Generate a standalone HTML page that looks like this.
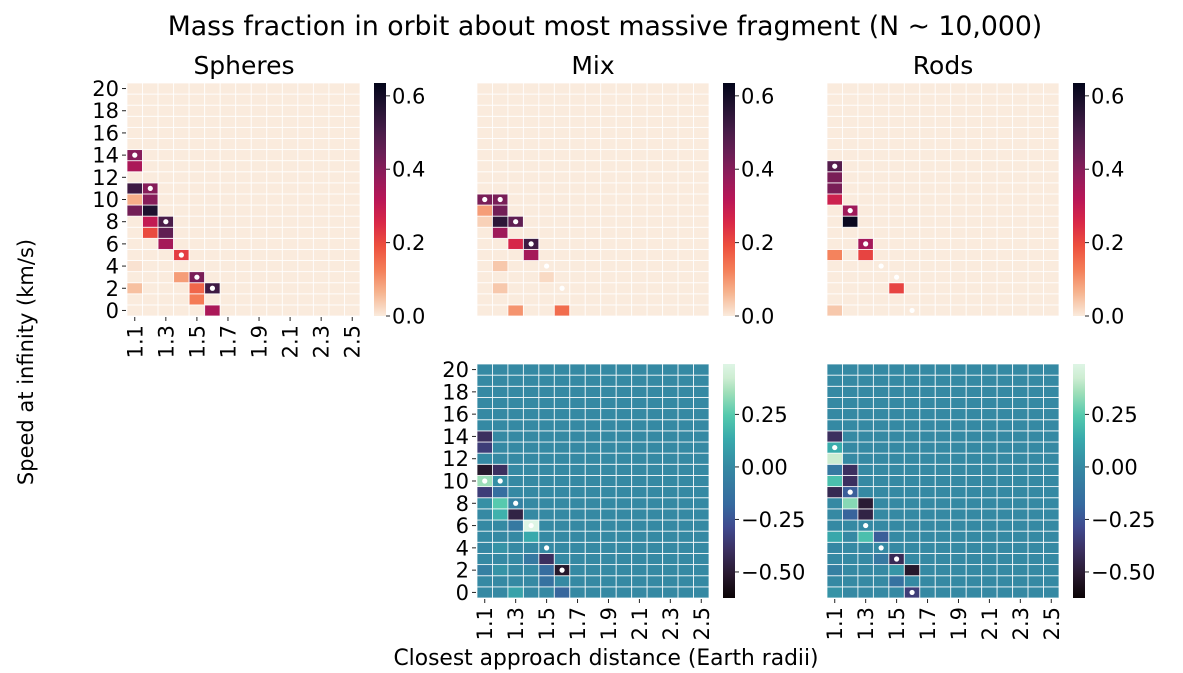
<!DOCTYPE html>
<html><head><meta charset="utf-8"><style>
html,body{margin:0;padding:0;background:#fff}
svg{display:block;font-family:"DejaVu Sans","Liberation Sans",sans-serif}
</style></head><body>
<svg id="fig" width="1183" height="673" viewBox="0 0 1183 673" xmlns="http://www.w3.org/2000/svg">
<defs>
<linearGradient id="rocketG" x1="0" y1="1" x2="0" y2="0">
<stop offset="0" stop-color="#faebdd"/><stop offset="0.1" stop-color="#f6b48f"/><stop offset="0.2" stop-color="#f47d57"/><stop offset="0.3" stop-color="#ed503e"/><stop offset="0.4" stop-color="#d92847"/><stop offset="0.5" stop-color="#b91657"/><stop offset="0.6" stop-color="#921c5b"/><stop offset="0.7" stop-color="#691f55"/><stop offset="0.8" stop-color="#451c47"/><stop offset="0.9" stop-color="#221331"/><stop offset="1" stop-color="#03051a"/>
</linearGradient>
<linearGradient id="makoG" x1="0" y1="1" x2="0" y2="0">
<stop offset="0" stop-color="#0b0405"/><stop offset="0.1" stop-color="#28192f"/><stop offset="0.2" stop-color="#3b2f5e"/><stop offset="0.3" stop-color="#40498e"/><stop offset="0.4" stop-color="#366a9f"/><stop offset="0.56" stop-color="#3589a3"/><stop offset="0.68" stop-color="#38aaac"/><stop offset="0.78" stop-color="#54c9ad"/><stop offset="0.88" stop-color="#a0dfb9"/><stop offset="0.94" stop-color="#cdedd2"/><stop offset="1" stop-color="#def5e5"/>
</linearGradient>
</defs>
<text x="605" y="35" font-size="26.7" text-anchor="middle">Mass fraction in orbit about most massive fragment (N ~ 10,000)</text>
<text x="244" y="74" font-size="25" text-anchor="middle">Spheres</text>
<text x="593" y="74" font-size="25" text-anchor="middle">Mix</text>
<text x="943" y="74" font-size="25" text-anchor="middle">Rods</text>
<text transform="translate(33,362) rotate(-90)" font-size="21" text-anchor="middle">Speed at infinity (km/s)</text>
<text x="606" y="665" font-size="21.8" text-anchor="middle">Closest approach distance (Earth radii)</text>
<g id="plots"></g>
</svg>
<script>
// columns: distance 1.1 .. 2.5 ; rows: speed 0..20
const xCats = ["1.1","1.2","1.3","1.4","1.5","1.6","1.7","1.8","1.9","2.0","2.1","2.2","2.3","2.4","2.5"];
const yCats = [0,1,2,3,4,5,6,7,8,9,10,11,12,13,14,15,16,17,18,19,20];
// nonzero cells: [speed, colIndex, value]
const spheresCells = [[14,0,0.4],[13,0,0.34],[11,0,0.52],[11,1,0.4],[10,0,0.07],[10,1,0.4],[9,0,0.43],[9,1,0.58],[8,1,0.3],[8,2,0.5],[7,1,0.2],[7,2,0.46],[6,2,0.35],[5,3,0.22],[4,0,0.01],[3,3,0.09],[3,4,0.42],[2,0,0.05],[2,4,0.16],[2,5,0.52],[1,4,0.13],[0,5,0.34]];
const mixCells = [[10,0,0.42],[10,1,0.42],[9,0,0.09],[9,1,0.43],[8,0,0.03],[8,1,0.55],[8,2,0.46],[7,1,0.36],[6,2,0.26],[6,3,0.52],[5,3,0.35],[4,1,0.04],[3,4,0.02],[2,1,0.04],[0,2,0.1],[0,5,0.15]];
const rodsCells = [[13,0,0.48],[12,0,0.42],[11,0,0.42],[10,0,0.28],[9,1,0.36],[8,1,0.62],[6,2,0.35],[5,0,0.12],[5,2,0.21],[2,4,0.21],[0,0,0.04]];
const spheresDots = [[14,0],[11,1],[8,2],[5,3],[3,4],[2,5]];
const mixDots = [[10,0],[10,1],[8,2],[6,3],[4,4],[2,5]];
const rodsDots = [[13,0],[9,1],[6,2],[4,3],[3,4],[0,5]];
const fracTicks = [0.0,0.2,0.4,0.6];
const fracTickLabels = ["0.0","0.2","0.4","0.6"];
const diffTicks = [0.25,0.0,-0.25,-0.5];
const diffTickLabels = ["0.25","0.00","\u22120.25","\u22120.50"];
const fracRange = [0,0.635];
const diffRange = [-0.624,0.49];
const yTickVals = [20,18,16,14,12,10,8,6,4,2,0];

const rocket=[[0,"#faebdd"],[0.1,"#f6b48f"],[0.2,"#f47d57"],[0.3,"#ed503e"],[0.4,"#d92847"],[0.5,"#b91657"],[0.6,"#921c5b"],[0.7,"#691f55"],[0.8,"#451c47"],[0.9,"#221331"],[1,"#03051a"]];
const mako=[[0,"#0b0405"],[0.1,"#28192f"],[0.2,"#3b2f5e"],[0.3,"#40498e"],[0.4,"#366a9f"],[0.56,"#3589a3"],[0.68,"#38aaac"],[0.78,"#54c9ad"],[0.88,"#a0dfb9"],[0.94,"#cdedd2"],[1,"#def5e5"]];
function hex(c){return [1,3,5].map(i=>parseInt(c.substr(i,2),16));}
function cmap(stops,t){t=Math.max(0,Math.min(1,t));let i=0;while(i<stops.length-2&&t>stops[i+1][0])i++;const f=(t-stops[i][0])/(stops[i+1][0]-stops[i][0]);const a=hex(stops[i][1]),b=hex(stops[i+1][1]);return "rgb("+a.map((v,k)=>Math.round(v+(b[k]-v)*f)).join(",")+")";}
function toGrid(cells){const g=yCats.map(()=>xCats.map(()=>0));cells.forEach(c=>{g[c[0]][c[1]]=c[2];});return g;}
const NS="http://www.w3.org/2000/svg";
const root=document.getElementById('plots');
function el(tag,attrs,parent){const e=document.createElementNS(NS,tag);for(const k in attrs)e.setAttribute(k,attrs[k]);(parent||root).appendChild(e);return e;}

function panel(name,grid,dots,x0,x1,y0,y1,stops,range,showY){
  const g=el('g',{});
  
  
  const cw=(x1-x0)/xCats.length, ch=(y1-y0)/yCats.length;
  const xs=c=>x0+c*cw, ys=v=>y0+(20-v)*ch;
  for(let r=0;r<yCats.length;r++)for(let c=0;c<xCats.length;c++){
    const v=grid[r][c];
    const rc=el('rect',{x:xs(c),y:ys(yCats[r]),width:cw,height:ch,fill:cmap(stops,(v-range[0])/(range[1]-range[0])),stroke:'#ffffff','stroke-width':0.9,'stroke-opacity':0.85},g);
    
    
  }
  dots.forEach(d=>{
    const m=el('circle',{cx:xs(d[1])+cw/2,cy:ys(d[0])+ch/2,r:2.6,fill:'#ffffff'},g);
    
    
  });
  if(showY){
    yTickVals.forEach(v=>{
      const yc=ys(v)+ch/2;
      el('line',{x1:x0-5,x2:x0-1,y1:yc,y2:yc,stroke:'#222','stroke-width':1},g);
      const t=el('text',{x:x0-8,y:yc+7.5,'font-size':21,'text-anchor':'end'},g);
      t.textContent=v;
      
      
    });
  }
  return {g,xs,cw,y1};
}
function xTicks(p,y1){
  for(let c=0;c<xCats.length;c+=2){
    const xc=p.xs(c)+p.cw/2;
    el('line',{x1:xc,x2:xc,y1:y1+1,y2:y1+5,stroke:'#222','stroke-width':1},p.g);
    const t=el('text',{transform:'translate('+(xc+7.5)+','+(y1+9)+') rotate(-90)','font-size':21,'text-anchor':'end'},p.g);
    t.textContent=xCats[c];
    
    
  }
}
function cbar(name,x0,y0,y1,grad,range,ticks,labels){
  const g=el('g',{});
  
  
  el('rect',{x:x0,y:y0,width:12,height:y1-y0,fill:'url(#'+grad+')'},g);
  const sy=v=>y1-(v-range[0])/(range[1]-range[0])*(y1-y0);
  ticks.forEach((v,i)=>{
    const yy=sy(v);
    el('line',{x1:x0+12,x2:x0+16,y1:yy,y2:yy,stroke:'#222','stroke-width':1},g);
    const t=el('text',{x:x0+18,y:yy+7.5,'font-size':21},g);
    t.textContent=labels[i];
    
    
  });
}
const gs=toGrid(spheresCells), gm=toGrid(mixCells), gr=toGrid(rodsCells);
const dm=gm.map((row,r)=>row.map((v,c)=>v-gs[r][c]));
const dr=gr.map((row,r)=>row.map((v,c)=>v-gs[r][c]));
const TY0=83,TY1=316,BY0=364,BY1=598;
const pS=panel('spheres',gs,spheresDots,127,360,TY0,TY1,rocket,fracRange,true); xTicks(pS,TY1);
panel('mix',gm,mixDots,477,709,TY0,TY1,rocket,fracRange,false);
panel('rods',gr,rodsDots,827,1059,TY0,TY1,rocket,fracRange,false);
const pDM=panel('mix-diff',dm,mixDots,477,709,BY0,BY1,mako,diffRange,true); xTicks(pDM,BY1);
const pDR=panel('rods-diff',dr,rodsDots,827,1059,BY0,BY1,mako,diffRange,false); xTicks(pDR,BY1);
cbar('colorbar-spheres',374,TY0,TY1,'rocketG',fracRange,fracTicks,fracTickLabels);
cbar('colorbar-mix',723,TY0,TY1,'rocketG',fracRange,fracTicks,fracTickLabels);
cbar('colorbar-rods',1073,TY0,TY1,'rocketG',fracRange,fracTicks,fracTickLabels);
cbar('colorbar-mix-diff',723,BY0,BY1,'makoG',diffRange,diffTicks,diffTickLabels);
cbar('colorbar-rods-diff',1073,BY0,BY1,'makoG',diffRange,diffTicks,diffTickLabels);
</script>
</body></html>
